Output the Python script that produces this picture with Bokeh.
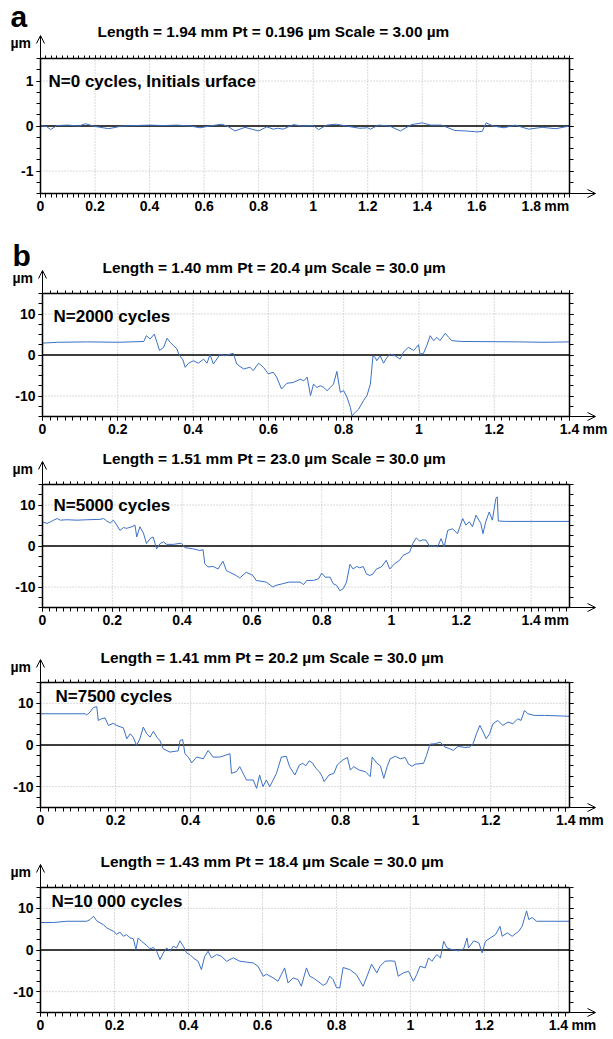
import numpy as np
from bokeh.plotting import figure
from bokeh.layouts import column
from bokeh.models import (Range1d, FixedTicker, LinearAxis, Label, Arrow,
                          OpenHead, CustomJSTickFormatter)
from bokeh.embed import file_html
from bokeh.resources import INLINE

# ---------------- data ----------------
# (a) N=0 cycles
x_n0 = [0.000, 0.020, 0.037, 0.060, 0.100, 0.140, 0.165, 0.200, 0.250, 0.300,
        0.350, 0.400, 0.450, 0.500, 0.550, 0.585, 0.620, 0.665, 0.690, 0.713,
        0.750, 0.800, 0.830, 0.854, 0.870, 0.890, 0.927, 0.960, 1.000, 1.020,
        1.050, 1.085, 1.130, 1.170, 1.200, 1.210, 1.240, 1.280, 1.320, 1.360,
        1.400, 1.430, 1.470, 1.520, 1.560, 1.600, 1.620, 1.634, 1.660, 1.700,
        1.740, 1.790, 1.840, 1.890, 1.940]
y_n0 = [0.00, 0.00, -0.08, 0.01, 0.02, 0.00, 0.05, -0.01, -0.06, 0.00,
        0.01, 0.02, 0.01, 0.02, 0.00, -0.04, 0.00, 0.04, -0.02, -0.11,
        -0.03, -0.11, -0.02, -0.07, -0.05, -0.07, 0.03, 0.00, 0.01, -0.08,
        0.02, 0.04, -0.01, -0.05, -0.04, -0.07, 0.02, 0.00, -0.11, 0.03,
        0.07, 0.02, 0.02, -0.10, -0.11, -0.13, -0.12, 0.07, 0.00, -0.04,
        0.02, -0.07, -0.03, -0.06, 0.00]

# (b) N=2000 cycles
x_n2000 = [0.000, 0.040, 0.120, 0.200, 0.269, 0.276, 0.286, 0.297, 0.304, 0.311,
           0.322, 0.331, 0.339, 0.348, 0.357, 0.363, 0.373, 0.379, 0.388, 0.401,
           0.414, 0.428, 0.437, 0.445, 0.454, 0.472, 0.485, 0.498, 0.507, 0.516,
           0.534, 0.551, 0.560, 0.574, 0.587, 0.600, 0.613, 0.622, 0.635, 0.649,
           0.666, 0.685, 0.694, 0.703, 0.712, 0.720, 0.729, 0.738, 0.747, 0.756,
           0.765, 0.773, 0.782, 0.791, 0.800, 0.809, 0.818, 0.822, 0.831, 0.840,
           0.853, 0.862, 0.871, 0.878, 0.884, 0.888, 0.897, 0.906, 0.915, 0.924,
           0.937, 0.950, 0.959, 0.972, 0.986, 0.999, 1.003, 1.012, 1.021, 1.030,
           1.039, 1.048, 1.056, 1.070, 1.079, 1.087, 1.114, 1.264, 1.335, 1.400]
y_n2000 = [2.9, 3.1, 3.2, 3.1, 3.3, 4.7, 3.9, 5.1, 3.1, 1.1,
           1.9, 4.1, 3.1, 2.3, 1.5, 0.0, -1.2, -3.0, -2.0, -1.4,
           -2.0, -1.0, -2.0, 0.1, -2.2, 0.2, -0.2, 0.2, 0.4, -2.2,
           -3.4, -3.0, -3.8, -2.0, -3.0, -4.6, -4.2, -5.4, -8.3, -6.9,
           -6.7, -5.9, -6.3, -5.4, -9.9, -7.1, -7.9, -7.5, -7.9, -8.7,
           -7.9, -7.1, -4.0, -9.1, -8.7, -10.3, -12.8, -14.8, -14.0, -13.2,
           -11.1, -9.9, -7.1, -0.2, -0.6, -1.4, -0.2, -2.0, -0.6, 0.2,
           -0.2, -1.0, 0.7, 1.9, 1.1, 2.5, 0.2, 0.4, 2.3, 4.7,
           3.5, 4.3, 3.5, 5.3, 4.3, 3.5, 3.3, 3.2, 3.1, 3.2]

# (b) N=5000 cycles
x_n5000 = [0.000, 0.013, 0.023, 0.032, 0.042, 0.051, 0.070, 0.099, 0.127, 0.165,
           0.175, 0.184, 0.194, 0.203, 0.213, 0.222, 0.232, 0.241, 0.256, 0.265,
           0.270, 0.279, 0.289, 0.298, 0.308, 0.317, 0.327, 0.337, 0.346, 0.356,
           0.375, 0.398, 0.408, 0.432, 0.451, 0.460, 0.465, 0.474, 0.489, 0.503,
           0.517, 0.527, 0.536, 0.555, 0.565, 0.584, 0.603, 0.612, 0.641, 0.660,
           0.669, 0.688, 0.707, 0.738, 0.748, 0.757, 0.776, 0.791, 0.800, 0.810,
           0.824, 0.833, 0.843, 0.852, 0.862, 0.871, 0.881, 0.890, 0.900, 0.909,
           0.919, 0.928, 0.938, 0.947, 0.957, 0.971, 0.985, 0.995, 1.009, 1.023,
           1.033, 1.052, 1.061, 1.071, 1.080, 1.090, 1.099, 1.109, 1.118, 1.132,
           1.142, 1.151, 1.161, 1.175, 1.189, 1.204, 1.213, 1.223, 1.232, 1.242,
           1.256, 1.262, 1.270, 1.280, 1.289, 1.299, 1.303, 1.306, 1.327, 1.510]
y_n5000 = [5.9, 5.5, 5.9, 6.3, 6.7, 6.3, 6.4, 6.3, 6.4, 6.5,
           6.7, 6.1, 5.6, 6.3, 5.1, 3.8, 4.5, 4.3, 4.7, 5.1,
           2.2, 4.7, 3.2, 0.6, 1.8, 2.2, -0.7, 0.6, 1.0, 0.4,
           0.4, 0.7, -0.4, -0.7, -1.1, -0.9, -4.3, -5.1, -5.0, -5.6,
           -3.7, -6.0, -6.4, -7.2, -7.8, -6.4, -7.2, -8.4, -8.8, -10.0,
           -9.6, -9.2, -8.8, -8.8, -9.4, -8.4, -8.4, -8.0, -6.6, -7.6,
           -7.6, -9.2, -9.6, -10.9, -10.4, -8.8, -4.5, -5.6, -5.0, -5.3,
           -5.0, -6.8, -7.2, -6.8, -5.6, -5.1, -3.5, -5.6, -4.3, -3.5,
           -2.3, -1.5, 0.6, 2.0, 1.2, 1.5, 1.4, -0.1, 0.0, -0.2,
           1.8, -0.2, 3.8, 4.2, 3.0, 6.7, 5.1, 5.9, 4.7, 7.5,
           5.5, 3.0, 5.9, 8.3, 6.3, 11.6, 12.0, 6.1, 6.0, 6.0]

# (b) N=7500 cycles
x_n7500 = [0.000, 0.119, 0.123, 0.132, 0.141, 0.150, 0.154, 0.163, 0.172, 0.181,
           0.194, 0.203, 0.212, 0.221, 0.230, 0.239, 0.247, 0.256, 0.265, 0.274,
           0.283, 0.292, 0.301, 0.310, 0.318, 0.327, 0.345, 0.367, 0.372, 0.379,
           0.385, 0.394, 0.403, 0.416, 0.434, 0.447, 0.460, 0.478, 0.505, 0.509,
           0.522, 0.531, 0.549, 0.567, 0.576, 0.584, 0.593, 0.602, 0.611, 0.620,
           0.629, 0.642, 0.655, 0.664, 0.678, 0.690, 0.699, 0.707, 0.716, 0.725,
           0.734, 0.743, 0.751, 0.756, 0.769, 0.782, 0.791, 0.804, 0.818, 0.826,
           0.835, 0.849, 0.866, 0.879, 0.884, 0.897, 0.906, 0.915, 0.924, 0.932,
           0.946, 0.959, 0.972, 0.981, 0.990, 0.999, 1.021, 1.029, 1.038, 1.052,
           1.065, 1.078, 1.091, 1.100, 1.113, 1.131, 1.144, 1.153, 1.162, 1.171,
           1.180, 1.188, 1.197, 1.206, 1.219, 1.232, 1.246, 1.259, 1.272, 1.281,
           1.290, 1.299, 1.316, 1.343, 1.410]
y_n7500 = [7.5, 7.5, 7.2, 7.9, 9.0, 9.2, 5.9, 6.3, 6.5, 4.7,
           5.2, 4.7, 4.4, 4.1, 1.5, 2.7, 1.9, -0.1, 1.5, 4.3,
           2.7, 1.9, 3.3, 1.9, 1.1, -0.9, -1.7, -1.4, 1.1, 1.3,
           -2.1, -2.9, -4.3, -2.9, -3.3, -1.3, -2.9, -2.9, -2.1, -6.8,
           -6.4, -5.2, -8.4, -8.4, -10.4, -7.2, -10.0, -8.4, -10.0, -8.4,
           -6.8, -2.9, -2.7, -5.2, -7.2, -4.8, -4.4, -5.0, -3.8, -4.3,
           -5.6, -6.4, -7.6, -8.8, -7.2, -6.8, -4.8, -3.7, -3.0, -6.0,
           -5.2, -6.0, -6.4, -7.6, -2.9, -4.4, -5.0, -8.0, -5.2, -3.3,
           -2.7, -3.3, -3.0, -4.6, -5.1, -4.6, -4.4, -2.5, 0.2, 0.3,
           0.7, -0.5, -0.9, -1.3, -0.3, -0.6, -0.5, 0.3, 2.7, 4.7,
           3.1, 1.5, 2.7, 5.1, 5.9, 4.7, 5.5, 5.1, 6.3, 5.9,
           8.3, 7.5, 7.1, 7.1, 6.9]

# (b) N=10 000 cycles
x_n10000 = [0.000, 0.035, 0.071, 0.125, 0.134, 0.143, 0.152, 0.161, 0.170, 0.179,
            0.188, 0.197, 0.206, 0.215, 0.224, 0.233, 0.242, 0.251, 0.258, 0.264,
            0.273, 0.287, 0.296, 0.305, 0.314, 0.323, 0.332, 0.341, 0.350, 0.359,
            0.368, 0.377, 0.386, 0.395, 0.404, 0.413, 0.426, 0.435, 0.444, 0.453,
            0.462, 0.476, 0.489, 0.503, 0.521, 0.539, 0.557, 0.575, 0.588, 0.602,
            0.611, 0.629, 0.642, 0.651, 0.660, 0.669, 0.683, 0.696, 0.705, 0.719,
            0.728, 0.737, 0.750, 0.764, 0.773, 0.782, 0.791, 0.800, 0.809, 0.818,
            0.836, 0.854, 0.872, 0.881, 0.895, 0.909, 0.918, 0.931, 0.945, 0.958,
            0.967, 0.981, 0.995, 1.008, 1.017, 1.026, 1.040, 1.049, 1.058, 1.071,
            1.081, 1.090, 1.099, 1.112, 1.130, 1.144, 1.153, 1.157, 1.171, 1.185,
            1.194, 1.203, 1.216, 1.230, 1.242, 1.248, 1.262, 1.275, 1.293, 1.302,
            1.314, 1.320, 1.329, 1.341, 1.430]
y_n10000 = [6.6, 6.6, 6.9, 6.9, 7.3, 8.1, 7.0, 6.5, 6.1, 5.3,
            4.9, 4.5, 3.8, 4.3, 3.3, 3.7, 2.9, 2.7, 0.1, 2.9,
            2.1, 1.1, 0.3, 0.6, -0.3, -2.3, -0.7, 0.5, -0.3, 0.9,
            0.5, 2.2, 0.9, -0.7, -1.1, -1.9, -2.7, -4.7, -1.5, -0.3,
            -1.9, -1.1, -1.5, -2.7, -1.9, -2.7, -2.9, -3.1, -3.9, -6.3,
            -5.8, -6.7, -7.5, -5.9, -4.3, -7.9, -6.7, -7.1, -8.7, -4.3,
            -6.3, -6.7, -7.5, -8.5, -8.0, -6.3, -7.1, -9.0, -9.1, -4.2,
            -4.7, -5.9, -8.7, -6.7, -3.4, -5.5, -3.9, -2.7, -2.6, -2.7,
            -6.3, -5.5, -5.1, -7.5, -5.9, -3.9, -4.3, -1.9, -2.7, -1.1,
            -1.9, 2.1, 0.5, 0.1, -0.2, 0.3, 2.9, 0.5, 2.2, 1.7,
            -0.7, 2.1, 2.9, 3.7, 5.7, 3.3, 4.1, 3.3, 4.5, 5.7,
            9.4, 7.3, 7.8, 6.9, 6.9]

lengths = [1.94, 1.40, 1.51, 1.41, 1.43]
scales = [3.0, 30.0, 30.0, 30.0, 30.0]
titles = ["Length = 1.94 mm  Pt = 0.196 \u00b5m  Scale = 3.00 \u00b5m",
          "Length = 1.40 mm  Pt = 20.4 \u00b5m  Scale = 30.0 \u00b5m",
          "Length = 1.51 mm  Pt = 23.0 \u00b5m  Scale = 30.0 \u00b5m",
          "Length = 1.41 mm  Pt = 20.2 \u00b5m  Scale = 30.0 \u00b5m",
          "Length = 1.43 mm  Pt = 18.4 \u00b5m  Scale = 30.0 \u00b5m"]
notes = ["N=0 cycles, Initials urface", "N=2000 cycles", "N=5000 cycles",
         "N=7500 cycles", "N=10 000 cycles"]
panel_letters = ["a", "b", None, None, None]

xticks_a = [0, 0.2, 0.4, 0.6, 0.8, 1.0, 1.2, 1.4, 1.6, 1.8]
xlabels_a = ["0", "0.2", "0.4", "0.6", "0.8", "1", "1.2", "1.4", "1.6", "1.8"]
xticks_b = [0, 0.2, 0.4, 0.6, 0.8, 1.0, 1.2, 1.4]
xlabels_b = ["0", "0.2", "0.4", "0.6", "0.8", "1", "1.2", "1.4"]
yticks_a = [-1, 0, 1]
ylabels_a = ["-1", "0", "1"]
yticks_b = [-10, 0, 10]
ylabels_b = ["-10", "0", "10"]
x_unit = "mm"
y_unit = "\u00b5m"

series = [(x_n0, y_n0), (x_n2000, y_n2000), (x_n5000, y_n5000),
          (x_n7500, y_n7500), (x_n10000, y_n10000)]

# ---------------- layout / style ----------------
FONT = "Liberation Sans"
LINE_COLOR = "#3b70c6"
GRID_COLOR = "#b4b4b4"
W = 608          # figure width (canvas px)
BOX_RIGHT = 569  # canvas x of the right edge of every plot box
SHIFT = 6        # empirical baseline correction for labels
# (height, box_top, box_bottom_margin, box_left, note_dx, note_dy,
#  title_dx, title_dy, letter_dy)
geo = [(225, 58, 32, 40, 8, 29, 57, 21, 35),
       (220, 68, 29, 42, 11, 29, 60, 20, 31),
       (195, 39, 33, 42, 11, 27, 60, 20, 0),
       (200, 42, 33, 40, 15, 20, 60, 19, 0),
       (198, 47, 26, 40, 11, 20, 60, 20, 0)]


def style_axis(ax, tick_out=4, show_labels=True):
    ax.axis_line_color = "black"
    ax.axis_line_width = 1.5
    ax.major_tick_line_color = "black"
    ax.minor_tick_line_color = "black"
    ax.major_tick_line_width = 1
    ax.minor_tick_line_width = 1
    ax.major_tick_out = tick_out
    ax.major_tick_in = 0
    ax.minor_tick_out = tick_out
    ax.minor_tick_in = 0
    ax.major_label_text_font = FONT
    ax.major_label_text_font_style = "bold"
    ax.major_label_text_font_size = "14px"
    ax.major_label_text_color = "black"
    if not show_labels:
        ax.formatter = CustomJSTickFormatter(code="return ''")


def txt(p, text, x, y, dx, dy, size, extra=0):
    p.add_layout(Label(x=x, y=y, x_offset=dx, y_offset=dy + SHIFT + extra,
                       text=text, text_font=FONT, text_font_style="bold",
                       text_font_size=size, text_color="black",
                       text_baseline="alphabetic", text_align="left"))


figs = []
for i, (xs, ys) in enumerate(series):
    h, top, bot, left, ndx, ndy, tdx, tdy, ldy = geo[i]
    length = lengths[i]
    half = scales[i] / 2.0
    if i == 0:
        xt, xl, yt, yl = xticks_a, xlabels_a, yticks_a, ylabels_a
    else:
        xt, xl, yt, yl = xticks_b, xlabels_b, yticks_b, ylabels_b
    xminor = [float(v) for v in np.round(np.arange(0, length + 1e-9, 0.02), 3)]
    yminor = [float(v) for v in np.round(np.arange(-half, half + 1e-9, scales[i] / 12.0), 4)]

    # pixel -> data scaling so that the box lands where it should
    fh = h - top - bot
    fw = BOX_RIGHT - left
    ppx = fw / length
    ppy = fh / (2 * half)
    xr = Range1d(-left / ppx, length + (W - BOX_RIGHT) / ppx)
    yr = Range1d(-half - bot / ppy, half + top / ppy)

    p = figure(width=W, height=h, output_backend="svg", toolbar_location=None,
               x_range=xr, y_range=yr, x_axis_location=None, y_axis_location=None)
    p.min_border = 0
    p.min_border_left = 0
    p.min_border_right = 0
    p.min_border_top = 0
    p.min_border_bottom = 0
    p.outline_line_color = None
    p.background_fill_color = "white"
    p.border_fill_color = "white"
    p.xgrid.visible = False
    p.ygrid.visible = False

    xtick = FixedTicker(ticks=xt, minor_ticks=xminor)
    ytick = FixedTicker(ticks=yt, minor_ticks=yminor)

    # dotted grid inside the box
    p.segment(x0=xt, y0=[-half] * len(xt), x1=xt, y1=[half] * len(xt),
              line_color=GRID_COLOR, line_dash="1 2", line_width=1)
    p.segment(x0=[0] * len(yt), y0=yt, x1=[length] * len(yt), y1=yt,
              line_color=GRID_COLOR, line_dash="1 2", line_width=1)
    # zero reference line
    p.segment(x0=[0], y0=[0], x1=[length], y1=[0], line_color="black",
              line_width=1.5)

    # profile
    p.line(xs, ys, line_color=LINE_COLOR, line_width=1)

    # axes drawn at the box edges
    bottom_ax = LinearAxis(ticker=xtick, fixed_location=-half, bounds=(0, length))
    style_axis(bottom_ax)
    bottom_ax.major_label_overrides = {t: s for t, s in zip(xt, xl)}
    bottom_ax.major_label_standoff = 3
    p.add_layout(bottom_ax, "below")

    left_ax = LinearAxis(ticker=ytick, fixed_location=0, bounds=(-half, half))
    style_axis(left_ax)
    left_ax.major_label_overrides = {t: s for t, s in zip(yt, yl)}
    left_ax.major_label_standoff = 3
    p.add_layout(left_ax, "left")

    top_ax = LinearAxis(ticker=xtick, fixed_location=half, bounds=(0, length))
    style_axis(top_ax, tick_out=3, show_labels=False)
    p.add_layout(top_ax, "above")

    right_ax = LinearAxis(ticker=ytick, fixed_location=length, bounds=(-half, half))
    style_axis(right_ax, show_labels=False)
    p.add_layout(right_ax, "right")

    # axis arrows
    p.add_layout(Arrow(x_start=0, y_start=half, x_end=0, y_end=half + 23 / ppy,
                       line_color="black", line_width=1,
                       end=OpenHead(size=8, line_width=1, line_color="black")))
    p.add_layout(Arrow(x_start=length, y_start=-half, x_end=length + 26 / ppx,
                       y_end=-half, line_color="black", line_width=1,
                       end=OpenHead(size=8, line_width=1, line_color="black")))

    # texts
    txt(p, titles[i], 0, half, tdx, tdy, "15.4px")
    txt(p, notes[i], 0, half, ndx, -ndy, "17px")
    txt(p, y_unit, 0, half, -30, 10, "14px")
    txt(p, x_unit, xt[-1], -half, 13, -18, "14px")
    if panel_letters[i]:
        txt(p, panel_letters[i], 0, half, -30, ldy, "30px", extra=1)

    figs.append(p)

layout = column(*figs, spacing=0)
open("out.html", "w").write(file_html(layout, INLINE))
